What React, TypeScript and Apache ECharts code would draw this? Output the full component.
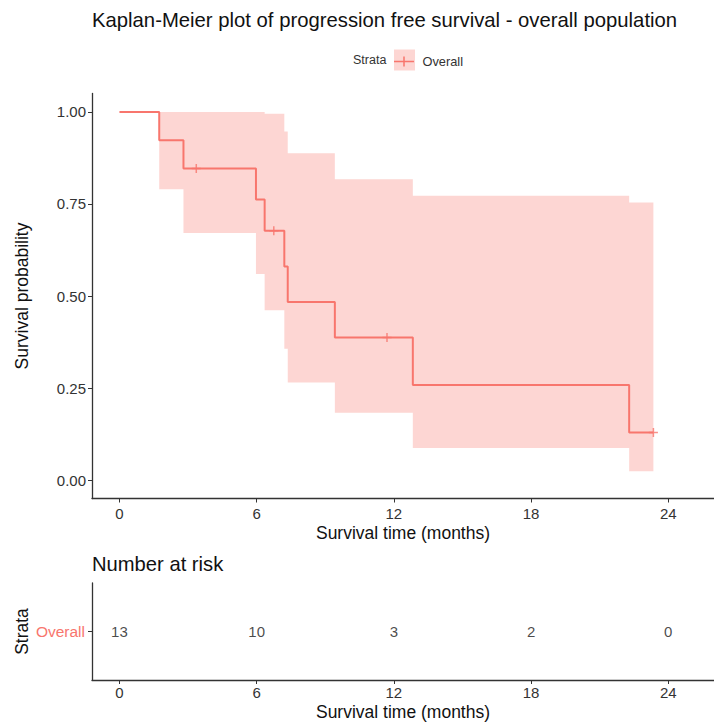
import React, { useEffect, useRef } from "react";
import * as echarts from "echarts";

// Kaplan-Meier estimate (time in months)
const times = [0, 1.74, 2.8, 5.97, 6.35, 7.21, 7.36, 9.42, 12.83, 22.29, 23.35];
const survival = [1, 0.923, 0.846, 0.762, 0.677, 0.58, 0.484, 0.387, 0.258, 0.129, 0.129];
const upperCI = [1, 1, 1, 1, 0.995, 0.947, 0.888, 0.817, 0.772, 0.754, 0.754];
const lowerCI = [1, 0.79, 0.671, 0.56, 0.461, 0.357, 0.265, 0.183, 0.087, 0.024, 0.024];

// censoring marks
const censorTimes = [3.36, 6.75, 11.7, 23.35];
const censorSurvival = [0.846, 0.677, 0.387, 0.129];

// risk table
const strata = ["Overall"];
const riskTimes = [0, 6, 12, 18, 24];
const riskCounts = [13, 10, 3, 2, 0];

// ticks
const timeTicks = [0, 6, 12, 18, 24];
const probTicks = [0, 0.25, 0.5, 0.75, 1];

const RED = "#F8766D";
const FONT = "'Liberation Sans', Arial, sans-serif";

export default function App() {
  const ref = useRef<HTMLDivElement>(null);

  useEffect(() => {
    if (!ref.current) return;
    const chart = echarts.init(ref.current, undefined, { renderer: "svg" });

    const axisLine = { show: true, onZero: false, lineStyle: { color: "#333", width: 1.3 } };
    const axisTick = { show: true, length: 4, lineStyle: { color: "#333", width: 1 } };

    const bandRender = (params: any, api: any) => {
      if (params.dataIndex !== 0) return null;
      const n = times.length;
      const pts: number[][] = [];
      for (let i = 0; i < n; i++) {
        pts.push(api.coord([times[i], upperCI[i]]));
        if (i < n - 1) pts.push(api.coord([times[i + 1], upperCI[i]]));
      }
      for (let i = n - 1; i >= 0; i--) {
        if (i < n - 1) pts.push(api.coord([times[i + 1], lowerCI[i]]));
        pts.push(api.coord([times[i], lowerCI[i]]));
      }
      return {
        type: "polygon",
        shape: { points: pts },
        style: { fill: "rgba(248,118,109,0.3)", stroke: "none" },
        silent: true,
      };
    };

    chart.setOption({
      animation: false,
      backgroundColor: "#fff",
      textStyle: { fontFamily: FONT },
      title: [
        {
          text: "Kaplan-Meier plot of progression free survival - overall population",
          left: 92,
          top: 10,
          padding: 0,
          textStyle: { fontSize: 20.3, fontWeight: "normal", color: "#111", fontFamily: FONT },
        },
        {
          text: "Number at risk",
          left: 92,
          top: 554,
          padding: 0,
          textStyle: { fontSize: 20.2, fontWeight: "normal", color: "#111", fontFamily: FONT },
        },
      ],
      legend: {
        data: ["Overall"],
        left: 394,
        top: 55,
        padding: 0,
        itemWidth: 21,
        itemHeight: 10,
        icon: "path://M0,4.25H20V5.75H0Z M9.25,0H10.75V10H9.25Z",
        selectedMode: false,
        textStyle: { fontSize: 12.8, color: "#333", fontFamily: FONT, padding: [0, 0, 0, 3] },
      },
      graphic: [
        {
          type: "text",
          x: 353,
          y: 60,
          z: 1,
          style: { text: "Strata", fontSize: 12.5, fill: "#333", fontFamily: FONT, verticalAlign: "middle" },
        },
        {
          type: "rect",
          z: 0,
          shape: { x: 394, y: 49.5, width: 21, height: 21 },
          style: { fill: "rgba(248,118,109,0.3)" },
        },
      ],
      grid: [
        { left: 92, top: 93.5, width: 622, height: 405 },
        { left: 92, top: 583, width: 622, height: 97 },
      ],
      xAxis: [
        {
          type: "value",
          gridIndex: 0,
          min: -1.2,
          max: 26,
          splitLine: { show: false },
          axisLine,
          axisTick: { ...axisTick, customValues: timeTicks },
          axisLabel: { customValues: timeTicks, fontSize: 15, color: "#333", margin: 7 },
          name: "Survival time (months)",
          nameLocation: "middle",
          nameGap: 25,
          nameMoveOverlap: false,
          nameTextStyle: { fontSize: 17.5, color: "#111" },
        },
        {
          type: "value",
          gridIndex: 1,
          min: -1.2,
          max: 26,
          splitLine: { show: false },
          axisLine,
          axisTick: { ...axisTick, customValues: timeTicks },
          axisLabel: { customValues: timeTicks, fontSize: 15, color: "#333", margin: 5 },
          name: "Survival time (months)",
          nameLocation: "middle",
          nameGap: 23,
          nameMoveOverlap: false,
          nameTextStyle: { fontSize: 17.5, color: "#111" },
        },
      ],
      yAxis: [
        {
          type: "value",
          gridIndex: 0,
          min: -0.05,
          max: 1.05,
          splitLine: { show: false },
          axisLine,
          axisTick: { ...axisTick, customValues: probTicks },
          axisLabel: {
            customValues: probTicks,
            fontSize: 15,
            color: "#333",
            margin: 6,
            formatter: (v: number) => v.toFixed(2),
          },
          name: "Survival probability",
          nameLocation: "middle",
          nameRotate: 90,
          nameGap: 61,
          nameMoveOverlap: false,
          nameTextStyle: { fontSize: 17.5, color: "#111" },
        },
        {
          type: "category",
          gridIndex: 1,
          data: strata,
          splitLine: { show: false },
          axisLine,
          axisTick: { ...axisTick, alignWithLabel: true },
          axisLabel: { fontSize: 15.5, color: RED, margin: 7 },
          name: "Strata",
          nameLocation: "middle",
          nameRotate: 90,
          nameGap: 61,
          nameMoveOverlap: false,
          nameTextStyle: { fontSize: 17.5, color: "#111" },
        },
      ],
      series: [
        {
          name: "confidence band",
          type: "custom",
          xAxisIndex: 0,
          yAxisIndex: 0,
          renderItem: bandRender,
          data: times.map((t, i) => [t, lowerCI[i], upperCI[i]]),
          z: 1,
          silent: true,
        },
        {
          name: "Overall",
          type: "line",
          xAxisIndex: 0,
          yAxisIndex: 0,
          step: "end",
          symbol: "none",
          color: RED,
          lineStyle: { color: RED, width: 2 },
          data: times.map((t, i) => [t, survival[i]]),
          z: 3,
        },
        {
          name: "censored",
          type: "scatter",
          xAxisIndex: 0,
          yAxisIndex: 0,
          symbol: "path://M2.5,0H3.5V2.5H6V3.5H3.5V6H2.5V3.5H0V2.5H2.5Z",
          symbolSize: 9,
          itemStyle: { color: RED },
          data: censorTimes.map((t, i) => [t, censorSurvival[i]]),
          z: 4,
        },
        {
          name: "risk",
          type: "scatter",
          xAxisIndex: 1,
          yAxisIndex: 1,
          symbol: "circle",
          symbolSize: 1,
          itemStyle: { color: "rgba(0,0,0,0)" },
          label: {
            show: true,
            position: "inside",
            fontSize: 15,
            color: "#1a1a1a",
            formatter: (p: any) => String(p.value[2]),
          },
          data: riskTimes.map((t, i) => [t, 0, riskCounts[i]]),
        },
      ],
    });

    return () => chart.dispose();
  }, []);

  return (
    <div
      ref={ref}
      style={{ position: "fixed", left: 0, top: 0, width: 714, height: 722, background: "#fff" }}
    />
  );
}
